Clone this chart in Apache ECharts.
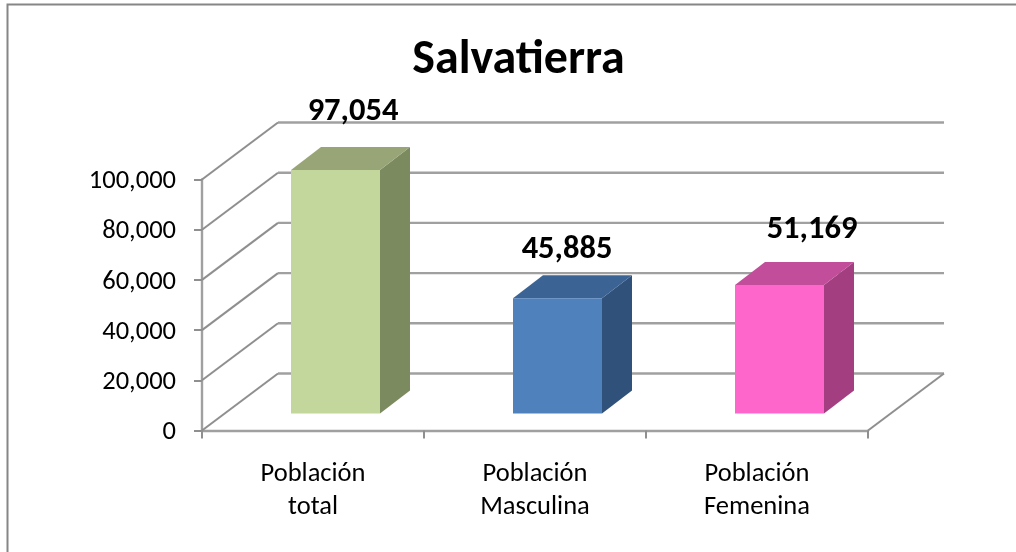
<!DOCTYPE html>
<html><head><meta charset="utf-8">
<style>html,body{margin:0;padding:0;background:#fff}#c{width:1016px;height:552px}</style>
<script src="https://cdn.jsdelivr.net/npm/echarts@6/dist/echarts.min.js"></script>
</head><body><div id="c"></div>
<script>
const chartTitle = 'Salvatierra';
const categories = ['Población\ntotal', 'Población\nMasculina', 'Población\nFemenina'];
const values = [97054, 45885, 51169];
const frontColors = ['#c3d69b', '#4f81bd', '#ff66cc'];
const sideColors = ['#7c8a5f', '#30517a', '#a33f80'];
const topColors = ['#98a677', '#3b6495', '#c24d9b'];
const labelShiftX = [17.5, 9.5, 32.5];
const labelShiftY = [-58.5, -48.5, -55.5];
const yTicks = [0, 20000, 40000, 60000, 80000, 100000];
const FONT = '"Carlito","Calibri","Open Sans","Noto Sans",sans-serif';
const WALL = {dx: 76, dy: -57};
const FLOOR = {dx: 22.5, dy: -17};
const BAR = {w: 89, dx: 30, dy: -23};
const fmt = v => v.toLocaleString('en-US');

function line(x1, y1, x2, y2, stroke, width) {
  return {type: 'line', silent: true, shape: {x1, y1, x2, y2},
    style: {stroke, lineWidth: width}};
}
function renderWall(params, api) {
  const v = api.value(0);
  const p = api.coord([0, v]);
  const x0 = params.coordSys.x, x1 = x0 + params.coordSys.width;
  const y = p[1];
  const children = [
    line(x0, y, x0 + WALL.dx, y + WALL.dy, '#8f8f8f', 2),
    line(x0 + WALL.dx, y + WALL.dy, x1 + WALL.dx, y + WALL.dy, '#a0a0a0', 2.4)
  ];
  if (v === 0) children.push(line(x1, y, x1 + WALL.dx, y + WALL.dy, '#8f8f8f', 2));
  return {type: 'group', children};
}
function renderBar(params, api) {
  const i = api.value(0);
  const top = api.coord([i, api.value(1)]);
  const base = api.coord([i, 0]);
  const cx = top[0] + FLOOR.dx;
  const l = cx - BAR.w / 2, r = cx + BAR.w / 2;
  const yT = top[1] + FLOOR.dy, yB = base[1] + FLOOR.dy;
  const poly = (pts, fill) => ({type: 'polygon', shape: {points: pts}, style: {fill}});
  return {type: 'group', children: [
    poly([[r, yT], [r + BAR.dx, yT + BAR.dy], [r + BAR.dx, yB + BAR.dy], [r, yB]], sideColors[i]),
    poly([[l, yT], [l + BAR.dx, yT + BAR.dy], [r + BAR.dx, yT + BAR.dy], [r, yT]], topColors[i]),
    poly([[l, yT], [r, yT], [r, yB], [l, yB]], frontColors[i]),
    {type: 'text', style: {text: fmt(api.value(1)), x: cx + labelShiftX[i], y: yT + labelShiftY[i],
      align: 'center', verticalAlign: 'middle', fontFamily: FONT, fontSize: 32.5,
      fontWeight: 'bold', fill: '#000'}}
  ]};
}
const chart = echarts.init(document.getElementById('c'), null, {renderer: 'canvas'});
chart.setOption({
  animation: false,
  backgroundColor: '#fff',
  title: {text: chartTitle, left: 513.5, top: 32, textAlign: 'center',
    textStyle: {fontFamily: FONT, fontSize: 48, fontWeight: 'bold', color: '#000'}},
  graphic: [
    {type: 'polyline', silent: true, shape: {points: [[7.5, 552], [7.5, 4.5], [1016, 4.5]]},
      style: {stroke: '#868686', lineWidth: 2, fill: null}}
  ],
  grid: {left: 202, right: 148, top: 179.5, bottom: 121.5},
  xAxis: {type: 'category', data: categories, boundaryGap: true,
    axisLine: {show: true, lineStyle: {color: '#a0a0a0', width: 2.4}},
    axisTick: {show: true, length: 8, lineStyle: {color: '#8f8f8f', width: 2}},
    axisLabel: {fontFamily: FONT, fontSize: 26.5, color: '#000', lineHeight: 33, margin: 27}},
  yAxis: {type: 'value', min: 0, max: 100000, interval: 20000,
    axisLine: {show: true, lineStyle: {color: '#a0a0a0', width: 2.4}},
    axisTick: {show: true, length: 8, lineStyle: {color: '#8f8f8f', width: 2}},
    splitLine: {show: false},
    axisLabel: {fontFamily: FONT, fontSize: 26.5, color: '#000', margin: 26, verticalAlign: 'top', lineHeight: 4, formatter: fmt}},
  series: [
    {type: 'custom', coordinateSystem: 'cartesian2d', renderItem: renderWall, clip: false,
      silent: true, z: 1, encode: {y: 0}, data: yTicks.map(v => [v])},
    {type: 'custom', coordinateSystem: 'cartesian2d', renderItem: renderBar, clip: false,
      silent: true, z: 3, encode: {x: 0, y: 1}, data: values.map((v, i) => [i, v])}
  ]
});
</script></body></html>
